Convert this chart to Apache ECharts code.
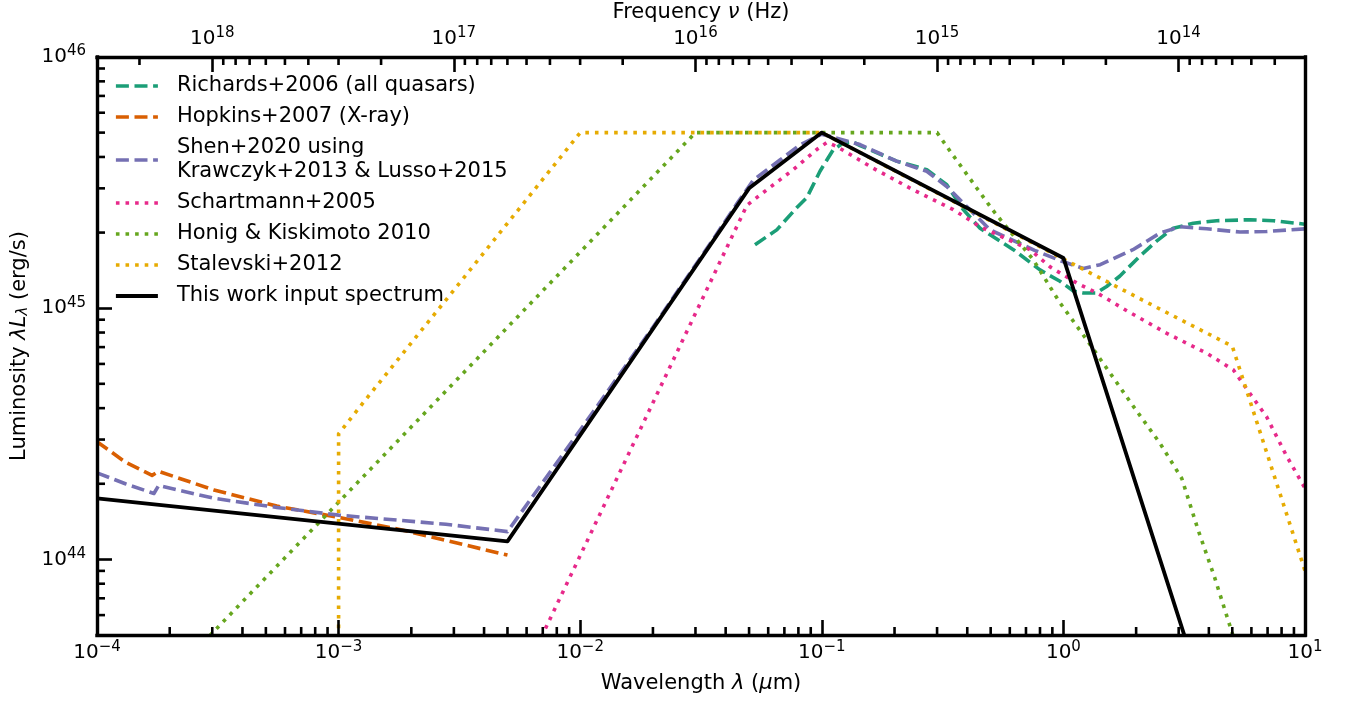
<!DOCTYPE html>
<html>
<head>
<meta charset="utf-8">
<script src="https://cdn.jsdelivr.net/npm/echarts@6/dist/echarts.min.js"></script>
<style>
html,body{margin:0;padding:0;background:#fff;}
#chart{width:1345px;height:702px;}
</style>
</head>
<body>
<div id="chart"></div>
<script>
// ---------- data: wavelength (μm), luminosity λL_λ (erg/s) ----------
const richards2006 = [
  [0.0529,1.79e45],[0.0651,2.05e45],[0.0787,2.51e45],[0.0866,2.75e45],[0.0983,3.51e45],
  [0.1116,4.28e45],[0.1227,4.55e45],[0.1349,4.59e45],[0.144,4.44e45],[0.204,3.85e45],
  [0.272,3.56e45],[0.329,3.10e45],[0.385,2.47e45],[0.452,2.08e45],[0.621,1.71e45],
  [0.80,1.42e45],[0.968,1.28e45],[1.10,1.17e45],[1.21,1.15e45],[1.37,1.15e45],
  [1.51,1.22e45],[1.71,1.34e45],[2.07,1.61e45],[2.43,1.85e45],[2.85,2.08e45],
  [3.45,2.18e45],[4.31,2.23e45],[5.92,2.25e45],[7.40,2.23e45],[10,2.16e45]
];
const hopkins2007 = [
  [1e-4,2.94e44],[1.31e-4,2.44e44],[1.69e-4,2.16e44],[1.80e-4,2.24e44],[3.05e-4,1.89e44],
  [5.55e-4,1.63e44],[1e-3,1.47e44],[1.83e-3,1.31e44],[2.78e-3,1.19e44],[5e-3,1.04e44]
];
const shen2020 = [
  [1e-4,2.21e44],[1.31e-4,2.0e44],[1.72e-4,1.83e44],[1.80e-4,1.97e44],[3.05e-4,1.75e44],
  [5.55e-4,1.61e44],[1e-3,1.50e44],[2.78e-3,1.38e44],[5e-3,1.29e44],[0.01,3.27e44],
  [0.02,8.4e44],[0.0355,1.88e45],[0.0447,2.62e45],[0.0521,3.24e45],[0.0592,3.55e45],
  [0.0671,3.89e45],[0.0812,4.47e45],[0.0922,4.75e45],[0.0998,4.93e45],[0.144,4.48e45],
  [0.204,3.85e45],[0.272,3.51e45],[0.329,3.05e45],[0.398,2.54e45],[0.497,2.05e45],
  [0.76,1.70e45],[1.0,1.53e45],[1.21,1.44e45],[1.42,1.49e45],[1.94,1.71e45],
  [2.51,1.99e45],[3.04,2.11e45],[3.92,2.07e45],[5.38,2.01e45],[6.93,2.02e45],[10,2.07e45]
];
const schartmann2005 = [
  [0.00398,1.61e43],[0.049,2.57e45],[0.0592,2.96e45],[0.0762,3.56e45],[0.0953,4.28e45],
  [0.105,4.57e45],[0.115,4.41e45],[0.163,3.61e45],[0.239,2.96e45],[0.350,2.47e45],
  [0.452,2.11e45],[0.728,1.71e45],[0.881,1.46e45],[1.135,1.26e45],[1.40,1.14e45],
  [1.83,9.77e44],[2.68,7.94e44],[3.92,6.62e44],[5.05,5.68e44],[6.11,4.38e44],
  [6.93,3.70e44],[8.39,2.58e44],[10,1.92e44]
];
const honig2010 = [
  [2e-4,3.4e43],[0.03,5e45],[0.3,5e45],[0.340,4.21e45],[0.508,2.47e45],[0.564,2.18e45],
  [0.750,1.56e45],[0.968,1.05e45],[1.25,7.48e44],[1.51,5.77e44],[1.95,4.06e44],
  [2.51,2.90e44],[3.09,2.10e44],[3.27,1.77e44],[3.61,1.31e44],[4.22,8.51e43],
  [4.93,5.30e43],[6.3,2.5e43]
];
const stalevski2012 = [
  [1e-3,1e43],[1e-3,3.16e44],[1.265e-3,4.21e44],[3.44e-3,1.39e45],[0.01,5e45],
  [0.1,5e45],[1.08,1.51e45],[2.55,9.84e44],[5,7.06e44],[10,9.0e43]
];
const thisWork = [
  [1e-4,1.75e44],[5e-3,1.18e44],[0.05,3.0e45],[0.1,5e45],[1,1.585e45],[10,1.58e42]
];

// ---------- axes ----------
const LAMBDA_MIN = 1e-4, LAMBDA_MAX = 10;
const L_MIN = 5e43, L_MAX = 1e46;
const C_UM_HZ = 2.998e14; // speed of light in μm·Hz
const xMinorTicks = [
  2e-4,3e-4,4e-4,5e-4,6e-4,7e-4,8e-4,9e-4,
  2e-3,3e-3,4e-3,5e-3,6e-3,7e-3,8e-3,9e-3,
  0.02,0.03,0.04,0.05,0.06,0.07,0.08,0.09,
  0.2,0.3,0.4,0.5,0.6,0.7,0.8,0.9,
  2,3,4,5,6,7,8,9
];
const yMinorTicks = [
  6e43,7e43,8e43,9e43,
  2e44,3e44,4e44,5e44,6e44,7e44,8e44,9e44,
  2e45,3e45,4e45,5e45,6e45,7e45,8e45,9e45
];
const nuMinorTicks = [
  4e13,5e13,6e13,7e13,8e13,9e13,
  2e14,3e14,4e14,5e14,6e14,7e14,8e14,9e14,
  2e15,3e15,4e15,5e15,6e15,7e15,8e15,9e15,
  2e16,3e16,4e16,5e16,6e16,7e16,8e16,9e16,
  2e17,3e17,4e17,5e17,6e17,7e17,8e17,9e17,
  2e18
];
const seriesNames = [
  'Richards+2006 (all quasars)',
  'Hopkins+2007 (X-ray)',
  'Shen+2020 using\nKrawczyk+2013 & Lusso+2015',
  'Schartmann+2005',
  'Honig & Kiskimoto 2010',
  'Stalevski+2012',
  'This work input spectrum'
];

const FONT = 'DejaVu Sans';
const FS = 20;      // tick labels
const FT = 21;      // titles and legend
const DASH = [13, 5.6];
const DOT = [3.6, 6];

function powLabel(v) {
  const e = Math.round(Math.log10(v));
  return '{b|10}{s|' + (e < 0 ? '\u2212' + (-e) : e) + '}';
}
const powRich = {
  b: {fontSize: FS, fontFamily: FONT, color: '#000'},
  s: {fontSize: 15, fontFamily: FONT, color: '#000', padding: [0, 0, 11, 0]}
};
const axisLineStyle = {show: true, lineStyle: {color: '#000', width: 3.4, cap: 'square'}};
const majorTick = {show: true, inside: true, length: 15, lineStyle: {color: '#000', width: 2.6}};

function tickRender(side, len) {
  return function (params, api) {
    const p = api.coord([api.value(0), api.value(1)]);
    let x2 = p[0], y2 = p[1];
    if (side === 'bottom') y2 -= len;
    else if (side === 'top') y2 += len;
    else x2 += len;
    return {type: 'line', shape: {x1: p[0], y1: p[1], x2: x2, y2: y2},
            style: {stroke: '#000', lineWidth: 2.6}};
  };
}

function lineSeries(name, data, color, type, width, z) {
  return {
    name: name, type: 'line', data: data, symbol: 'none', showSymbol: false,
    clip: true, z: z, animation: false,
    lineStyle: {color: color, width: width, type: type, cap: 'butt', join: 'round'},
    itemStyle: {color: color},
    emphasis: {disabled: true}
  };
}

const italicRich = {i: {fontSize: FT, fontFamily: FONT, fontStyle: 'italic', color: '#000'}};

const chart = echarts.init(document.getElementById('chart'), null, {renderer: 'canvas'});
chart.setOption({
  animation: false,
  backgroundColor: '#fff',
  textStyle: {fontFamily: FONT},
  grid: {left: 97, top: 57, width: 1208, height: 578, containLabel: false, outerBoundsMode: 'none'},
  legend: {
    data: seriesNames,
    orient: 'vertical', left: 114, top: 74, padding: 0,
    itemWidth: 42, itemHeight: 24, itemGap: 7,
    itemStyle: {opacity: 0, borderWidth: 0},
    lineStyle: {width: 'inherit', type: 'inherit', cap: 'butt'},
    textStyle: {fontSize: FT, fontFamily: FONT, color: '#000', lineHeight: 24, padding: [0, 0, 0, 14]},
    selectedMode: false
  },
  xAxis: [
    {
      type: 'log', min: LAMBDA_MIN, max: LAMBDA_MAX, position: 'bottom', z: 10,
      axisLine: axisLineStyle, axisTick: majorTick, splitLine: {show: false},
      axisLabel: {formatter: powLabel, rich: powRich, margin: 5, showMinLabel: true, showMaxLabel: true},
      name: 'Wavelength {i|λ} ({i|μ}m)', nameLocation: 'middle', nameGap: 38, nameMoveOverlap: false,
      nameTextStyle: {fontSize: FT, fontFamily: FONT, color: '#000', rich: italicRich}
    },
    {
      type: 'log', min: C_UM_HZ / LAMBDA_MAX, max: C_UM_HZ / LAMBDA_MIN, inverse: true,
      position: 'top', z: 10,
      axisLine: axisLineStyle, axisTick: majorTick, splitLine: {show: false},
      axisLabel: {formatter: powLabel, rich: powRich, margin: 5.5, showMinLabel: false, showMaxLabel: false},
      name: 'Frequency {i|ν} (Hz)', nameLocation: 'middle', nameGap: 34, nameMoveOverlap: false,
      nameTextStyle: {fontSize: FT, fontFamily: FONT, color: '#000', rich: italicRich}
    }
  ],
  yAxis: [
    {
      type: 'log', min: L_MIN, max: L_MAX, position: 'left', z: 10,
      axisLine: axisLineStyle, axisTick: majorTick, splitLine: {show: false},
      axisLabel: {formatter: powLabel, rich: powRich, margin: 11, showMinLabel: false, showMaxLabel: true},
      name: 'Luminosity {i|λL}{sub|λ} (erg/s)', nameLocation: 'middle', nameGap: 66, nameRotate: 90,
      nameMoveOverlap: false,
      nameTextStyle: {fontSize: FT, fontFamily: FONT, color: '#000',
        rich: {
          i: {fontSize: FT, fontFamily: FONT, fontStyle: 'italic', color: '#000'},
          sub: {fontSize: 15, fontFamily: FONT, fontStyle: 'italic', color: '#000', padding: [8, 0, 0, 0]}
        }}
    },
    {
      type: 'log', min: L_MIN, max: L_MAX, position: 'right', z: 10,
      axisLine: axisLineStyle, axisTick: {show: false}, axisLabel: {show: false}, splitLine: {show: false}
    }
  ],
  series: [
    lineSeries(seriesNames[0], richards2006, '#1b9e77', DASH, 3.6, 3),
    lineSeries(seriesNames[1], hopkins2007, '#d95f02', DASH, 3.6, 3),
    lineSeries(seriesNames[2], shen2020, '#7570b3', DASH, 3.6, 3),
    lineSeries(seriesNames[3], schartmann2005, '#e7298a', DOT, 3.6, 3),
    lineSeries(seriesNames[4], honig2010, '#66a61e', DOT, 3.6, 3),
    lineSeries(seriesNames[5], stalevski2012, '#e6ab02', DOT, 3.6, 3),
    lineSeries(seriesNames[6], thisWork, '#000000', 'solid', 3.8, 4),
    {
      type: 'custom', xAxisIndex: 0, yAxisIndex: 0, silent: true, z: 11, clip: false,
      data: xMinorTicks.map(v => [v, L_MIN]), renderItem: tickRender('bottom', 8)
    },
    {
      type: 'custom', xAxisIndex: 0, yAxisIndex: 0, silent: true, z: 11, clip: false,
      data: yMinorTicks.map(v => [LAMBDA_MIN, v]), renderItem: tickRender('left', 8)
    },
    {
      type: 'custom', xAxisIndex: 1, yAxisIndex: 0, silent: true, z: 11, clip: false,
      data: nuMinorTicks.map(v => [v, L_MAX]), renderItem: tickRender('top', 8)
    }
  ]
});
</script>
</body>
</html>
